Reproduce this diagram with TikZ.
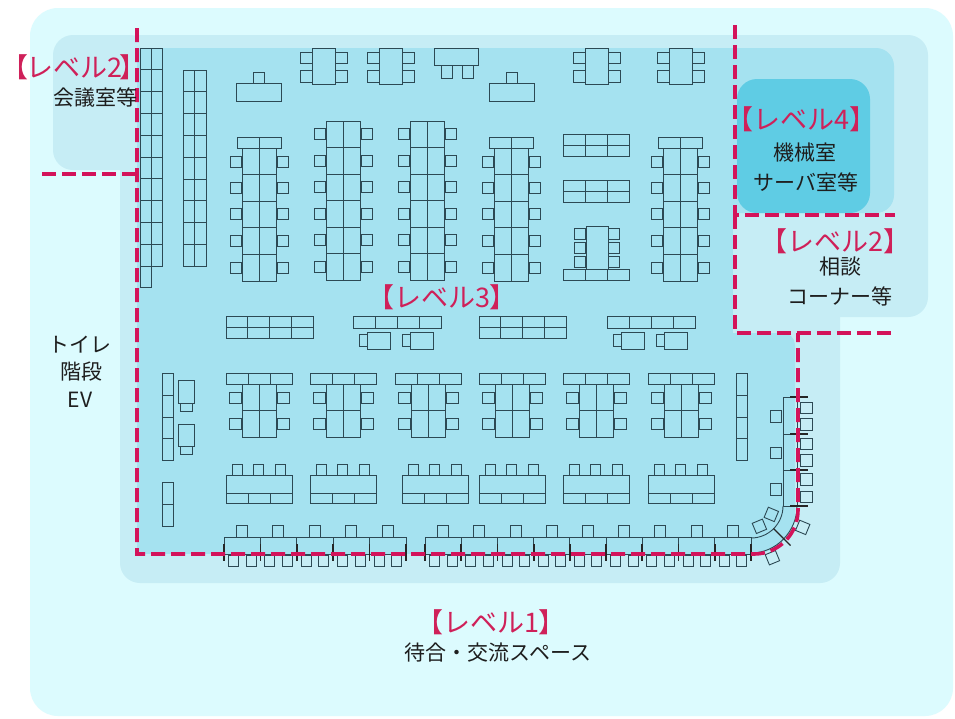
\documentclass[tikz,border=0pt]{standalone}
\usepackage{fontspec}
\setmainfont{Noto Sans CJK JP}
\definecolor{lone}{HTML}{DCFBFE}
\definecolor{ltwo}{HTML}{C6EDF5}
\definecolor{lthree}{HTML}{A5E2F0}
\definecolor{lfour}{HTML}{5FCCE4}
\definecolor{dashc}{HTML}{D3135A}
\definecolor{labc}{HTML}{CF2059}
\definecolor{txtc}{HTML}{1E1E1E}
\definecolor{furc}{HTML}{2C4954}
\tikzset{
  fur/.style={draw=furc, line width=0.9pt},
  tick/.style={draw=black!85, line width=1.7pt},
  lvl/.style={draw=dashc, line width=3.6pt, dash pattern=on 14pt off 6pt},
  lab/.style={text=labc, font=\fontsize{27}{30}\selectfont, inner sep=0pt},
  txt/.style={text=txtc, font=\fontsize{21}{24}\selectfont, inner sep=0pt},
}
\newcommand\mychair[2]{\draw[fur] (#1,#2) rectangle ++(11,11);}
\newcommand\fourtab[1]{%
  \draw[fur] (#1,48) rectangle ++(23,36);
  \draw[fur] (#1-12,52) rectangle ++(12,11);
  \draw[fur] (#1-12,70) rectangle ++(12,12);
  \draw[fur] (#1+23,52) rectangle ++(12,11);
  \draw[fur] (#1+23,70) rectangle ++(12,12);}
\newcommand\ttab[1]{%
  \draw[fur] (#1,83) rectangle ++(45,18);
  \draw[fur] (#1+17,72) rectangle ++(11,11);}
\newcommand\longcap[1]{%
  \draw[fur] (#1-22,137) rectangle (#1+22,148);
  \draw[fur] (#1-17,148) rectangle (#1+17,281);
  \draw[fur] (#1,137) -- (#1,281);
  \foreach \yy in {174.6,201.2,227.8,254.4} {\draw[fur] (#1-17,\yy) -- (#1+17,\yy);}
  \foreach \yy in {156,182,208.5,235,262} {\draw[fur] (#1-29,\yy) rectangle ++(11,11); \draw[fur] (#1+18,\yy) rectangle ++(11,11);}}
\newcommand\longnocap[1]{%
  \draw[fur] (#1-17,121) rectangle (#1+17,280);
  \draw[fur] (#1,121) -- (#1,280);
  \foreach \yy in {147.5,174,200.5,227,253.5} {\draw[fur] (#1-17,\yy) -- (#1+17,\yy);}
  \foreach \yy in {128.5,155.5,181.5,208.5,234.5,261.5} {\draw[fur] (#1-29,\yy) rectangle ++(11,11); \draw[fur] (#1+18,\yy) rectangle ++(11,11);}}
\newcommand\gridfour[1]{%
  \draw[fur] (#1,316) rectangle ++(87,22);
  \draw[fur] (#1,327) -- ++(87,0);
  \foreach \k in {1,2,3} {\draw[fur] (#1+21.75*\k,316) -- ++(0,22);}}
\newcommand\barset[1]{%
  \draw[fur] (#1,316) rectangle ++(88,12);
  \foreach \k in {1,2,3} {\draw[fur] (#1+22*\k,316) -- ++(0,12);}
  \draw[fur] (#1+14,332) rectangle ++(23,17);
  \draw[fur] (#1+6,334.5) rectangle ++(8,12);
  \draw[fur] (#1+57,332) rectangle ++(23,17);
  \draw[fur] (#1+49,334.5) rectangle ++(8,12);}
\newcommand\grpB[1]{%
  \draw[fur] (#1,373) rectangle ++(66,11);
  \draw[fur] (#1+22,373) -- ++(0,11);
  \draw[fur] (#1+44,373) -- ++(0,11);
  \draw[fur] (#1+16,384) rectangle (#1+50,437);
  \draw[fur] (#1+33,384) -- (#1+33,437);
  \draw[fur] (#1+16,410.5) -- (#1+50,410.5);
  \draw[fur] (#1+3,392) rectangle ++(12,11);
  \draw[fur] (#1+3,418) rectangle ++(12,11);
  \draw[fur] (#1+51,392) rectangle ++(12,11);
  \draw[fur] (#1+51,418) rectangle ++(12,11);}
\newcommand\grpC[1]{%
  \foreach \dx in {6,27,49} {\draw[fur] (#1+\dx,464) rectangle ++(10,11);}
  \draw[fur] (#1,475) rectangle ++(66,28);
  \draw[fur] (#1,493) -- ++(66,0);
  \draw[fur] (#1+22,493) -- ++(0,10);
  \draw[fur] (#1+44,493) -- ++(0,10);}
\newcommand\desk[2]{%
  \draw[fur] (#1,537) rectangle ++(#2,17);
  \draw[fur] (#1+12.5,525.5) rectangle ++(11,11.5);
  \draw[fur] (#1+4.5,555.5) rectangle ++(10,10.5);
  \draw[fur] (#1+22,555.5) rectangle ++(10,10.5);}
\begin{document}
\begin{tikzpicture}[x=1pt,y=-1pt]
\useasboundingbox (0,0) rectangle (955,718);
\fill[white] (0,0) rectangle (955,718);
% level 1
\fill[lone, rounded corners=28] (30,8) rectangle (953,716);
% level 2 area
\fill[ltwo, rounded corners=20] (53,35) rectangle (150,170);
\fill[ltwo, rounded corners=20] (120,35) rectangle (840,583);
\fill[ltwo, rounded corners=20] (700,35) rectangle (928,317);
% level 3 area
\fill[lthree] (137,48) rectangle (733,554);
\fill[lthree, rounded corners=18] (700,48) rectangle (894,213);
\fill[lthree, rounded corners=12] (700,333) rectangle (795,460);
\fill[lthree, rounded corners=42] (700,400) rectangle (795,554);
% level 4
\fill[lfour, rounded corners=20] (737,79) rectangle (870,213);

% ---- furniture ----
% left shelves
\draw[fur] (140,48) rectangle (162,266);
\draw[fur] (151,48) -- (151,266);
\foreach \k in {1,...,9} {\draw[fur] (140,48+21.8*\k) -- (162,48+21.8*\k);}
\draw[fur] (140,266) rectangle (151,287);
\draw[fur] (183,70) rectangle (206,266);
\draw[fur] (194.5,70) -- (194.5,266);
\foreach \k in {1,...,8} {\draw[fur] (183,70+21.8*\k) -- (206,70+21.8*\k);}
% top row
\ttab{236}
\fourtab{312}
\fourtab{379}
\draw[fur] (434,48) rectangle (478,65);
\draw[fur] (441,65) rectangle ++(11,13);
\draw[fur] (462,65) rectangle ++(11,13);
\ttab{489}
\fourtab{585}
\fourtab{669}
% long tables
\longcap{259}
\longnocap{343}
\longnocap{427.5}
\longcap{511.5}
\longcap{680}
% middle tables
\foreach \yy in {134,180} {
  \draw[fur] (563,\yy) rectangle ++(66,22);
  \draw[fur] (563,\yy+11) -- ++(66,0);
  \draw[fur] (585,\yy) -- ++(0,22);
  \draw[fur] (607,\yy) -- ++(0,22);}
\draw[fur] (563,269) rectangle (629,280);
\draw[fur] (585,269) -- (585,280);
\draw[fur] (607,269) -- (607,280);
\draw[fur] (586,226) rectangle (608,269);
\foreach \yy in {228,242,256} {\draw[fur] (574,\yy) rectangle ++(11,11); \draw[fur] (608,\yy) rectangle ++(11,11);}
% row A
\gridfour{226}
\barset{353}
\gridfour{479}
\barset{607}
% row B
\foreach \x in {226,310,395,479,563,648} {\grpB{\x}}
% row C
\foreach \x in {226,310,402,479,563,648} {\grpC{\x}}
% left side items
\draw[fur] (162,373) rectangle (173,460);
\foreach \yy in {395,417,438} {\draw[fur] (162,\yy) -- (173,\yy);}
\draw[fur] (162,482) rectangle (173,526);
\draw[fur] (162,504) -- (173,504);
\draw[fur] (178,380) rectangle (194,403);
\draw[fur] (180,403) rectangle (192,411);
\draw[fur] (178,424) rectangle (194,446);
\draw[fur] (180,446) rectangle (192,454);
% right shelf
\draw[fur] (736,373) rectangle (747,460);
\foreach \yy in {395,417,438} {\draw[fur] (736,\yy) -- (747,\yy);}
% row D desks
\foreach \k in {0,...,4} {\desk{224+36.4*\k}{36.4}}
\foreach \k in {0,...,8} {\desk{425+36.222*\k}{36.222}}
% right column desks
\draw[fur] (783,397) rectangle (797,506);
\draw[fur] (783,434) -- (797,434);
\draw[fur] (783,470) -- (797,470);
\foreach \yy in {410.5,447,483.5} {\draw[fur] (770,\yy) rectangle ++(11,11.5);}
\foreach \yy in {402,418.5,438,454.5,473.5,491} {\draw[fur] (800,\yy) rectangle ++(12,11.5);}
% corner desk
\draw[fur] (783,506) .. controls (783,523.7) and (768.7,538) .. (751,538);
\draw[fur] (797,506) .. controls (797,531.4) and (776.4,553) .. (751,553);
\draw[tick, line width=1.3pt] (773.6,528.6) -- (790.5,545.5);
\draw[fur, shift={(771.3,514.4)}] (2.97,7.19) -- (7.19,-2.97) -- (-2.97,-7.19) -- (-7.19,2.97) -- cycle;
\draw[fur, shift={(759.4,526.3)}] (-2.97,7.19) -- (7.19,2.97) -- (2.97,-7.19) -- (-7.19,-2.97) -- cycle;
\draw[fur, shift={(802.7,527.4)}] (2.97,7.19) -- (7.19,-2.97) -- (-2.97,-7.19) -- (-7.19,2.97) -- cycle;
\draw[fur, shift={(772.4,557.7)}] (-2.97,7.19) -- (7.19,2.97) -- (2.97,-7.19) -- (-7.19,-2.97) -- cycle;
% ticks (partitions)
\foreach \k in {0,...,5} {\draw[tick] (224+36.4*\k,544) -- ++(0,17);}
\foreach \k in {0,...,9} {\draw[tick] (425+36.222*\k,544) -- ++(0,17);}
\foreach \yy in {397,434,470,506} {\draw[tick] (790,\yy) -- (808,\yy);}

% ---- level boundaries ----
\draw[lvl] (42,174) -- (137,174);
\draw[lvl] (137,28) -- (137,554) -- (754,554) .. controls (778.3,554) and (798,534.3) .. (798,510) -- (798,333);
\draw[lvl] (735,25) -- (735,215) -- (895,215);
\draw[lvl] (735,215) -- (735,333) -- (895,333);

% ---- labels ----
\node[lab] (l2a) at (74,67) {【\kern-.1emレベル2\kern-.1em】};
\node[txt] (t2a) at (95,98) {会議室等};
\node[lab] (l4) at (801,119) {【レベル4】};
\node[txt] (t4a) at (805,153) {機械室};
\node[txt] (t4b) at (806,182) {サーバ室等};
\node[lab] (l2b) at (835,241) {【レベル2】};
\node[txt] (t2b) at (840,267) {相談};
\node[txt] (t2c) at (840,296) {コーナー等};
\node[lab] (l3) at (442,297) {【レベル3】};
\node[lab] (l1) at (491,622) {【レベル1】};
\node[txt] (t1) at (498,653) {待合・交流スペース};
\node[txt] (tw1) at (80,345) {トイレ};
\node[txt] (tw2) at (81,372) {階段};
\node[txt] (tw3) at (80,400) {EV};
\end{tikzpicture}
\end{document}
